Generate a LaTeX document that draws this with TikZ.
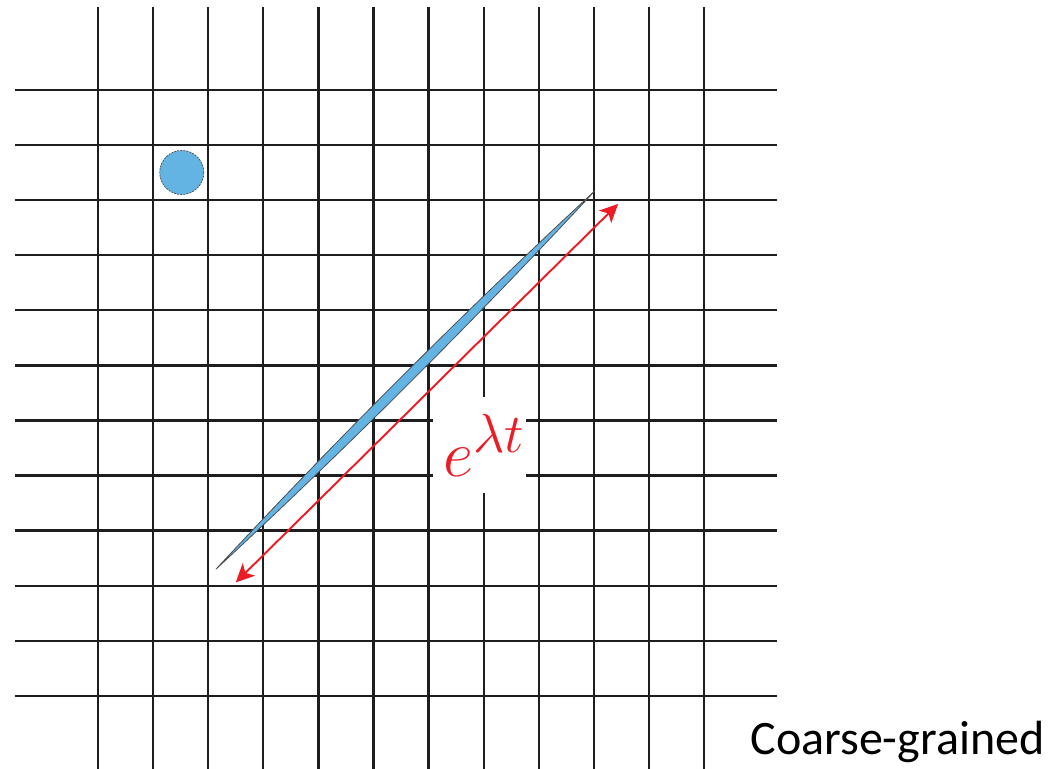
\documentclass[tikz,border=0pt]{standalone}
\usepackage{fontspec}
\newfontfamily\calibri{Carlito}
\usepackage{tikz}
\usetikzlibrary{arrows.meta}

\definecolor{cellblue}{RGB}{99,179,227}
\definecolor{arrowred}{RGB}{237,28,36}
\definecolor{gridgray}{RGB}{30,30,30}

\begin{document}
\begin{tikzpicture}[>={Stealth[length=9.5pt,width=9pt,inset=2.5pt]},semithick]
            % 设置样式
            \tikzstyle{gridline}=[draw=gridgray,line width=1.2pt]
            \tikzstyle{blob}=[fill=cellblue,draw=black!70,line width=0.4pt]
            \tikzstyle{stretch}=[<->,draw=arrowred,line width=1pt]

            \useasboundingbox (-1.779,-1.325) rectangle (17.26,12.631);

            % 网格
            \foreach \i in {0,...,11} {
                \draw[gridline] (\i,-1.325) -- (\i,12.5);
                \draw[gridline] (-1.506,\i) -- (12.323,\i);
            }

            % 初始的小球
            \node[blob,circle,minimum size=0.8cm,inner sep=0pt,dash pattern=on 1pt off 0.6pt] (ball) at (1.52,9.5) {};

            % 被拉长的区域
            \coordinate (s1) at (2.14,2.30);
            \coordinate (s2) at (9.02,9.17);
            \draw[blob] (s1) .. controls +(2.208,2.375) and +(-2.378,-2.205) .. (s2)
                             .. controls +(-2.208,-2.375) and +(2.378,2.205) .. (s1) -- cycle;

            % 标注
            \node[fill=white,minimum width=1.69cm,minimum height=1.74cm,inner sep=0pt,
                  text=arrowred,font=\Huge] (rate) at (6.924,4.555) {\hspace{5pt}\scalebox{1.37}{$e^{\lambda t}$}};
            \coordinate (a1) at (2.5,2.06);
            \coordinate (a2) at (9.44,8.93);
            \draw[stretch] (a1) -- (a2);

            \node[anchor=base west,inner sep=0pt,font=\calibri\fontsize{24.8}{29}\selectfont] (caption) at (11.83,-1.071) {Coarse-grained};
        \end{tikzpicture}
\end{document}
